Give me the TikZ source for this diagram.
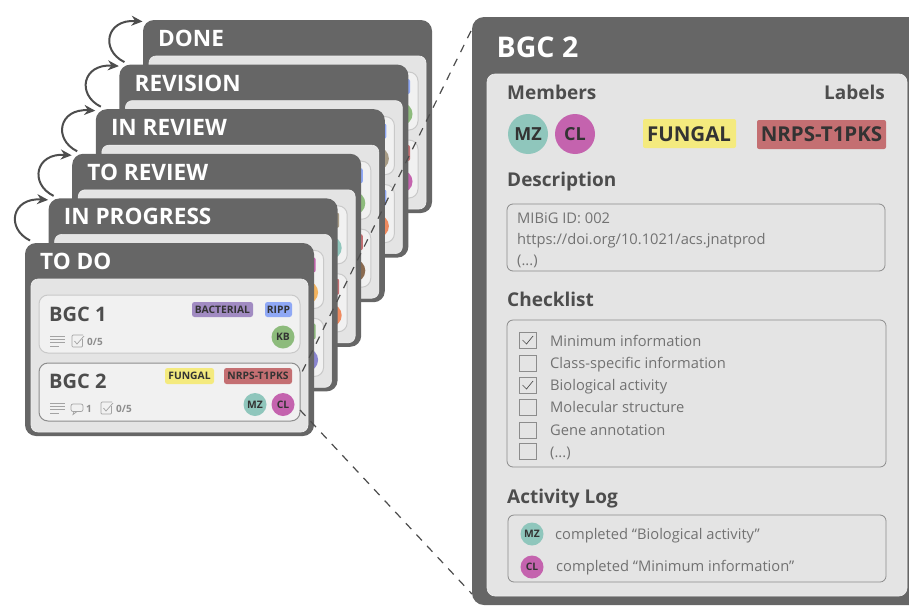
\documentclass[tikz,border=0pt]{standalone}
\usepackage{fontspec}
\setmainfont{Open Sans}
\usetikzlibrary{arrows.meta}
\definecolor{darkbox}{HTML}{666666}
\definecolor{panelgray}{HTML}{E4E4E4}
\definecolor{cardgray}{HTML}{F1F1F1}
\definecolor{cardedge}{HTML}{C9C9C9}
\definecolor{boxedge}{HTML}{8C8C8C}
\definecolor{headtext}{HTML}{4D4D4D}
\definecolor{bodytext}{HTML}{727272}
\definecolor{tagtext}{HTML}{333333}
\definecolor{cpurple}{HTML}{A18BC2}
\definecolor{cblue}{HTML}{8FA8F5}
\definecolor{cyellow}{HTML}{F4EA7E}
\definecolor{cred}{HTML}{C46F72}
\definecolor{cteal}{HTML}{8FC6BC}
\definecolor{cmagenta}{HTML}{C463AE}
\definecolor{cgreen}{HTML}{8DBB7C}
\definecolor{corange}{HTML}{EF8A5F}
\definecolor{ctan}{HTML}{A89C86}
\definecolor{cbrown}{HTML}{8A6A4F}
\definecolor{cyolk}{HTML}{F2B35F}
\definecolor{cviolet}{HTML}{8A85D0}
\tikzset{
  x=1pt,y=-1pt,
  boardbox/.style={fill=darkbox,rounded corners=11pt,minimum width=289pt,minimum height=193pt,anchor=north west,inner sep=0pt,outer sep=0pt},
  panelbox/.style={fill=panelgray,draw=cardgray!80!panelgray,line width=.6pt,rounded corners=7pt},
  cardbox/.style={fill=cardgray,draw=cardedge,line width=1pt,rounded corners=9pt},
  selcard/.style={fill=cardgray,draw=cardedge!70!black,line width=1pt,rounded corners=9pt},
  fieldbox/.style={draw=boxedge,line width=.8pt,rounded corners=6pt},
  checkbox/.style={draw=boxedge,line width=.8pt},
  tick/.style={draw=headtext,line width=.7pt},
  iconline/.style={draw=boxedge!80!white,line width=.7pt},
  boardtitle/.style={anchor=base west,inner sep=0pt,text=white,font=\fontsize{22.6}{22.6}\selectfont\bfseries},
  cardtitle/.style={anchor=base west,inner sep=0pt,text=headtext,font=\fontsize{20}{20}\selectfont\bfseries},
  heading/.style={anchor=base west,inner sep=0pt,text=headtext,font=\fontsize{19}{19}\selectfont\bfseries},
  body/.style={anchor=base west,inner sep=0pt,text=bodytext,font=\fontsize{14.7}{14.7}\selectfont},
  smalltag/.style={inner sep=0pt,text=tagtext,font=\fontsize{10.3}{10.3}\selectfont\bfseries},
  smallmeta/.style={anchor=base west,inner sep=0pt,text=boxedge,font=\fontsize{10}{10}\selectfont\bfseries},
  flowarrow/.style={draw=headtext,line width=2pt,-{Stealth[length=11pt,width=10pt]}},
  zoomline/.style={draw=headtext,line width=1.2pt,dash pattern=on 8pt off 7.5pt},
}
\newcommand{\backboard}[8]{% name,ox,oy,title,c1,c2,c3,c4
  \begin{scope}[shift={(#2,#3)}]
    \node[boardbox] (#1) at (25,243) {};
    \coordinate (#1in) at (24.5,244.5);
    \coordinate (#1out) at (30,240.5);
    \path[panelbox] (31,279) rectangle (308,432);
    \path[cardbox] (39,295) rectangle (300,353);
    \path[cardbox] (39,363) rectangle (300,421);
    \path[fill=#5,rounded corners=2pt] (265,302) rectangle (292,317);
    \path[fill=#6] (283,337) circle (11.5);
    \path[fill=#7,rounded corners=2pt] (224,368) rectangle (292,384);
    \path[fill=#8] (283,404.5) circle (11.5);
    \node[boardtitle] (#1title) at (40,269.5) {#4};
  \end{scope}}
\newcommand{\tinycheck}[2]{% x,y of top-left
  \path[iconline,rounded corners=1pt] (#1+10.5,#2+4) -- (#1+10.5,#2+12) -- (#1,#2+12) -- (#1,#2) -- (#1+11,#2);
  \path[iconline] (#1+2.5,#2+6) -- (#1+5,#2+9) -- (#1+12,#2+1);}
\newcommand{\tinylines}[2]{% x,y
  \path[iconline] (#1,#2) -- (#1+14.5,#2) (#1,#2+3.3) -- (#1+14.5,#2+3.3) (#1,#2+6.6) -- (#1+14.5,#2+6.6) (#1,#2+9.9) -- (#1+9,#2+9.9);}
\newcommand{\bigcheck}[3]{% name,top y,ticked
  \path[checkbox] (519,#2) rectangle (536,#2+16);
  \ifnum#3=1 \path[tick] (522.5,#2+8) -- (526.5,#2+12) -- (533,#2+4);\fi}
\begin{document}
\begin{tikzpicture}
\useasboundingbox (0,0) rectangle (909,605);
\backboard{bDone}{118}{-223}{DONE}{cblue}{cgreen}{cred}{cmagenta}
\backboard{bRev}{94.4}{-178.4}{REVISION}{cblue}{ctan}{cblue}{corange}
\backboard{bInr}{70.8}{-133.8}{IN REVIEW}{cblue}{cgreen}{cred}{cbrown}
\backboard{bTor}{47.2}{-89.2}{TO REVIEW}{ctan}{cteal}{cred}{corange}
\backboard{bPrg}{23.6}{-44.6}{IN PROGRESS}{cmagenta}{cyolk}{cgreen}{cviolet}
% front board
\node[boardbox] (bTodo) at (25,243) {};
\coordinate (bTodoout) at (30,240.5);
\path[panelbox] (31,279) rectangle (308,432);
\path[cardbox] (39,295) rectangle (300,353);
\path[selcard] (39,363) rectangle (300,421);
\node[boardtitle] (bTodotitle) at (40,269.5) {TO DO};
\node[cardtitle] (cardone) at (49,321) {BGC 1};
\node[cardtitle] (cardtwo) at (49,388) {BGC 2};
\path[fill=cpurple,rounded corners=2.5pt] (192,302) rectangle (253,317);
\node[smalltag] (tBact) at (222.5,309.5) {BACTERIAL};
\path[fill=cblue,rounded corners=2.5pt] (265,302) rectangle (292,317);
\node[smalltag] (tRipp) at (278.5,309.5) {RIPP};
\path[fill=cyellow,rounded corners=2.5pt] (165,368) rectangle (214,384);
\node[smalltag] (tFung) at (189.5,376) {FUNGAL};
\path[fill=cred,rounded corners=2.5pt] (224,368) rectangle (292,384);
\node[smalltag] (tNrps) at (258,376) {NRPS-T1PKS};
\node[circle,fill=cgreen,minimum size=23pt,smalltag] (mKB) at (283,337) {KB};
\node[circle,fill=cteal,minimum size=23pt,smalltag] (mMZ) at (255,404.5) {MZ};
\node[circle,fill=cmagenta,minimum size=23pt,smalltag] (mCL) at (283,404.5) {CL};
\tinylines{50}{336}
\tinycheck{72}{335}
\node[smallmeta] (metaA) at (87,345) {0/5};
\tinylines{50}{403}
\path[iconline,rounded corners=2pt] (71,404) rectangle (83,411.5);
\path[iconline] (74,411.5) -- (73,414.5) -- (77,411.5);
\node[smallmeta] (metaB) at (86,412) {1};
\tinycheck{101}{402}
\node[smallmeta] (metaC) at (116,412) {0/5};
% flow arrows
\draw[flowarrow] (bRevout) .. controls (100,50) and (106,19) .. (bDonein);
\draw[flowarrow] (bInrout) .. controls (76.4,94.6) and (82.4,63.6) .. (bRevin);
\draw[flowarrow] (bTorout) .. controls (52.8,139.2) and (58.8,108.2) .. (bInrin);
\draw[flowarrow] (bPrgout) .. controls (29.2,183.8) and (35.2,152.8) .. (bTorin);
\draw[flowarrow] (bTodoout) .. controls (5.6,228.4) and (11.6,197.4) .. (bPrgin);
% zoom lines
\coordinate (zoomTopA) at (471,31);
\coordinate (zoomTopB) at (300,376);
\coordinate (zoomBotA) at (300,410);
\coordinate (zoomBotB) at (472,594);
\draw[zoomline] (zoomTopA) -- (zoomTopB);
\draw[zoomline] (zoomBotA) -- (zoomBotB);
% detail panel
\path[fill=darkbox] (909,17) [rounded corners=12pt] -- (472,17) -- (472,605) [sharp corners] -- (909,605) -- cycle;
\path[fill=panelgray,draw=cardgray!70!panelgray,line width=.6pt,rounded corners=8pt] (487,74) rectangle (907,596);
\node[anchor=base west,inner sep=0pt,text=white,font=\fontsize{28.5}{28.5}\selectfont\bfseries] (dTitle) at (496.5,57) {BGC 2};
\node[heading] (hMembers) at (507,99) {Members};
\node[heading,anchor=base east] (hLabels) at (885,99) {Labels};
\node[circle,fill=cteal,minimum size=40pt,inner sep=0pt,text=tagtext,font=\fontsize{18}{18}\selectfont\bfseries] (dMZ) at (528,134) {MZ};
\node[circle,fill=cmagenta,minimum size=40pt,inner sep=0pt,text=tagtext,font=\fontsize{18}{18}\selectfont\bfseries] (dCL) at (575,134) {CL};
\path[fill=cyellow,rounded corners=2pt] (643,119) rectangle (736,148);
\node[inner sep=0pt,text=tagtext,font=\fontsize{20.5}{20.5}\selectfont\bfseries] (dFung) at (689,134) {FUNGAL};
\path[fill=cred,rounded corners=2pt] (757,120) rectangle (886,149);
\node[inner sep=0pt,text=tagtext,font=\fontsize{20.5}{20.5}\selectfont\bfseries] (dNrps) at (821.5,134) {NRPS-T1PKS};
\node[heading] (hDesc) at (507,186) {Description};
\path[fieldbox] (507,204) rectangle (885,271);
\node[body] (dA) at (517,223) {MIBiG ID: 002};
\node[body] (dB) at (517,244) {https://doi.org/10.1021/acs.jnatprod};
\node[body] (dC) at (517,265) {(...)};
\node[heading] (hCheck) at (507,306) {Checklist};
\path[fieldbox] (507,320) rectangle (886,467);
\bigcheck{c1}{332}{1}
\bigcheck{c2}{355}{0}
\bigcheck{c3}{377}{1}
\bigcheck{c4}{399}{0}
\bigcheck{c5}{422}{0}
\bigcheck{c6}{443}{0}
\node[body] (lA) at (550,346) {Minimum information};
\node[body] (lB) at (550,368) {Class-specific information};
\node[body] (lC) at (550,390) {Biological activity};
\node[body] (lD) at (550,412) {Molecular structure};
\node[body] (lE) at (550,435) {Gene annotation};
\node[body] (lF) at (550,457) {(...)};
\node[heading] (hLog) at (507,503) {Activity Log};
\path[fieldbox] (508,515) rectangle (886,582);
\node[circle,fill=cteal,minimum size=23pt,smalltag] (aMZ) at (532,534) {MZ};
\node[circle,fill=cmagenta,minimum size=23pt,smalltag] (aCL) at (532,567) {CL};
\node[body] (aA) at (555,539) {completed “Biological activity”};
\node[body] (aB) at (556,571) {completed “Minimum information”};
\end{tikzpicture}
\end{document}
